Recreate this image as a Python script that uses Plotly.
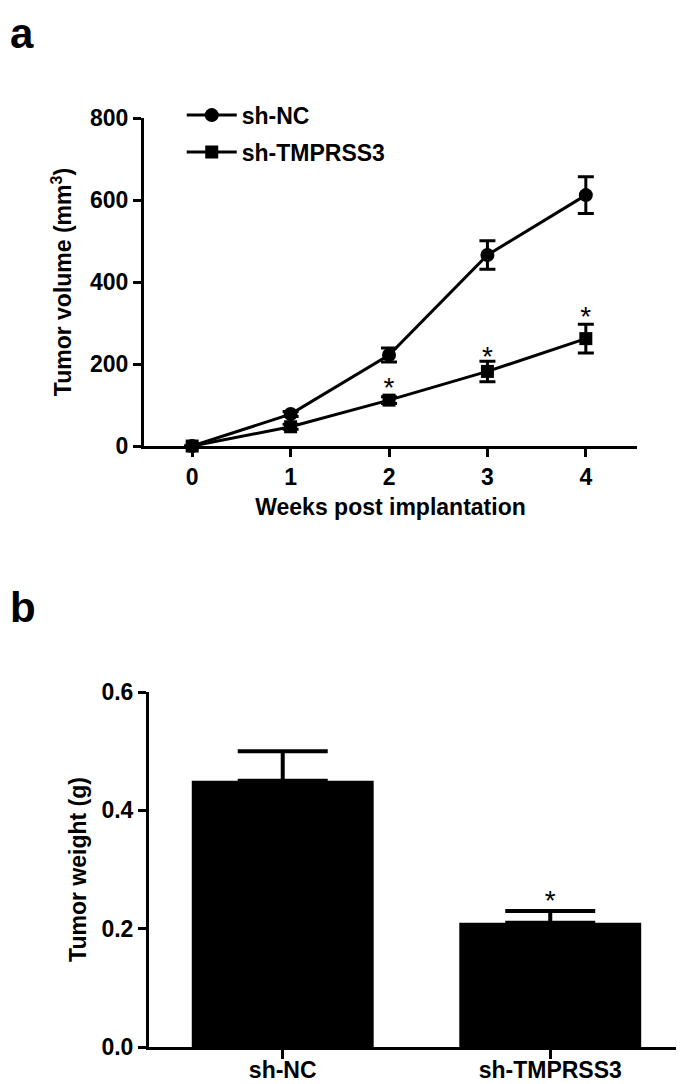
import plotly.graph_objects as go

# panel a: tumor volume over time
weeks = [0, 1, 2, 3, 4]
nc_volume = [0, 78, 222, 466, 612]
nc_volume_err = [0, 6, 17, 35, 45]
kd_volume = [0, 47, 112, 182, 262]
kd_volume_err = [0, 6, 8, 25, 35]
star_weeks = [2, 3, 4]
star_volume = [137, 212, 310]

# panel b: tumor weight
groups = ["sh-NC", "sh-TMPRSS3"]
weight = [0.45, 0.21]
weight_err = [0.05, 0.02]
star_weight = [0.243]

FONT = "Liberation Sans, Arial"

fig = go.Figure()

fig.add_trace(go.Scatter(
    x=weeks, y=nc_volume, name="sh-NC", mode="lines+markers", legendgroup="nc",
    line=dict(color="black", width=3),
    marker=dict(symbol="circle", size=14, color="black"),
    error_y=dict(type="data", array=nc_volume_err, color="black", thickness=3, width=8),
    cliponaxis=False, xaxis="x", yaxis="y",
))
fig.add_trace(go.Scatter(
    x=weeks, y=kd_volume, name="sh-TMPRSS3", mode="lines+markers", legendgroup="kd",
    line=dict(color="black", width=3),
    marker=dict(symbol="square", size=13, color="black"),
    error_y=dict(type="data", array=kd_volume_err, color="black", thickness=3, width=8),
    cliponaxis=False, xaxis="x", yaxis="y",
))
fig.add_trace(go.Scatter(
    x=star_weeks, y=star_volume, mode="text", text=["*"] * len(star_weeks),
    textfont=dict(size=28, color="black", family=FONT), showlegend=False,
    cliponaxis=False, xaxis="x", yaxis="y",
))

fig.add_trace(go.Bar(
    x=groups, y=weight, width=0.68, marker=dict(color="black", line=dict(width=0)),
    error_y=dict(type="data", array=weight_err, arrayminus=[0, 0], symmetric=False,
                 color="black", thickness=4, width=45),
    showlegend=False, xaxis="x2", yaxis="y2",
))
fig.add_trace(go.Scatter(
    x=[groups[1]], y=star_weight, mode="text", text=["*"],
    textfont=dict(size=28, color="black", family=FONT), showlegend=False,
    cliponaxis=False, xaxis="x2", yaxis="y2",
))

axis_common = dict(
    showline=True, linecolor="black", linewidth=3, ticks="outside",
    tickwidth=3, tickcolor="black", showgrid=False, zeroline=False,
    automargin=False,
    tickfont=dict(family=FONT, size=23, color="black", weight="bold"),
)
title_font = dict(family=FONT, size=23, weight="bold", color="black")

# the page body adds an 8px offset, so the domains are shifted up/left by 8px
fig.update_layout(
    width=684, height=1084,
    margin=dict(l=0, r=0, t=0, b=0),
    plot_bgcolor="white", paper_bgcolor="white",
    font=dict(family=FONT, color="black"),
    xaxis=dict(domain=[0.1988, 0.9196], range=[-0.49, 4.52], tickvals=weeks, ticklen=8,
               title=dict(text="Weeks post implantation", standoff=11, font=title_font),
               anchor="y", **axis_common),
    yaxis=dict(domain=[0.5959, 0.8985], range=[0, 800], tickvals=[0, 200, 400, 600, 800],
               ticklen=8,
               title=dict(text="Tumor volume (mm<sup>3</sup>)", standoff=12, font=title_font),
               anchor="x", **axis_common),
    xaxis2=dict(domain=[0.2061, 0.9883], range=[-0.5, 1.5], anchor="y2", ticklen=9,
                ticklabelstandoff=-9, **axis_common),
    yaxis2=dict(domain=[0.0415, 0.369], range=[0, 0.6], tickvals=[0, 0.2, 0.4, 0.6],
                tickformat=".1f", ticklen=8,
                title=dict(text="Tumor weight (g)", standoff=9, font=title_font),
                anchor="x2", **axis_common),
    legend=dict(x=0.254, y=0.921, xanchor="left", yanchor="top",
                font=dict(family=FONT, size=23, color="black", weight="bold"),
                bgcolor="rgba(0,0,0,0)", itemwidth=50, tracegroupgap=4),
    annotations=[
        dict(text="a", x=0, y=1.0, xref="paper", yref="paper",
             xanchor="left", yanchor="top", showarrow=False,
             font=dict(family=FONT, size=42, weight="bold", color="black")),
        dict(text="b", x=0, y=1 - 574 / 1084, xref="paper", yref="paper",
             xanchor="left", yanchor="top", showarrow=False,
             font=dict(family=FONT, size=42, weight="bold", color="black")),
    ],
)

fig.write_html("out.html")
